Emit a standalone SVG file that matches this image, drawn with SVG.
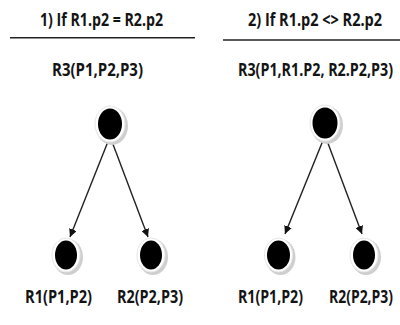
<svg xmlns="http://www.w3.org/2000/svg" width="400" height="325" viewBox="0 0 400 325">
<style>
text{font-family:"Open Sans","Liberation Sans",sans-serif;font-weight:bold;fill:#141414;}
.t{font-size:17px;}
.b{font-size:18px;}
.rule{stroke:#222;stroke-width:1.6;}
.edge{stroke:#222;stroke-width:1.4;fill:none;marker-end:url(#ah);}
.sh{fill:#cfcfcf;}
.halo{fill:#fff;stroke:#e6e6e6;stroke-width:1;}
.dot{fill:#000;}
</style>
<defs>
<marker id="ah" viewBox="0 0 10 10" refX="10" refY="5" markerWidth="8" markerHeight="8" markerUnits="userSpaceOnUse" orient="auto">
<path d="M0,0 L10,5 L0,10 Z" fill="#111"/>
</marker>
</defs>
<rect width="400" height="325" fill="#fff"/>
<g id="header-left">
<text class="t" x="40" y="26" textLength="123" lengthAdjust="spacingAndGlyphs">1) If R1.p2 = R2.p2</text>
<line class="rule" x1="10" y1="37.7" x2="195" y2="37.7"/>
</g>
<g id="header-right">
<text class="t" x="248" y="26" textLength="134" lengthAdjust="spacingAndGlyphs">2) If R1.p2 &lt;&gt; R2.p2</text>
<line class="rule" x1="223" y1="40" x2="400" y2="40"/>
</g>
<g id="connectors">
<line class="edge" x1="109" y1="139" x2="70" y2="237"/>
<line class="edge" x1="111" y1="139" x2="148" y2="237"/>
<line class="edge" x1="324" y1="138" x2="285" y2="234"/>
<line class="edge" x1="326" y1="138" x2="362" y2="234"/>
</g>
<g id="R3-left">
<ellipse class="sh" cx="112" cy="126" rx="16" ry="19"/>
<ellipse class="halo" cx="110" cy="124" rx="15" ry="18"/>
<ellipse class="dot" cx="110" cy="124" rx="12" ry="15.5"/>
<text class="t" x="52" y="76" textLength="91" lengthAdjust="spacingAndGlyphs">R3(P1,P2,P3)</text>
</g>
<g id="R1-left">
<ellipse class="sh" cx="68" cy="257" rx="15" ry="18"/>
<ellipse class="halo" cx="66" cy="255" rx="14" ry="17"/>
<ellipse class="dot" cx="66" cy="255" rx="11" ry="14.5"/>
<text class="b" x="25" y="303" textLength="67" lengthAdjust="spacingAndGlyphs">R1(P1,P2)</text>
</g>
<g id="R2-left">
<ellipse class="sh" cx="153" cy="257" rx="15" ry="18"/>
<ellipse class="halo" cx="151" cy="255" rx="14" ry="17"/>
<ellipse class="dot" cx="151" cy="255" rx="11" ry="14.5"/>
<text class="b" x="117" y="303" textLength="66" lengthAdjust="spacingAndGlyphs">R2(P2,P3)</text>
</g>
<g id="R3-right">
<ellipse class="sh" cx="327" cy="125" rx="16" ry="19"/>
<ellipse class="halo" cx="325" cy="123" rx="15" ry="18"/>
<ellipse class="dot" cx="325" cy="123" rx="12.5" ry="15.5"/>
<text class="t" x="238" y="76" textLength="155" lengthAdjust="spacingAndGlyphs">R3(P1,R1.P2, R2.P2,P3)</text>
</g>
<g id="R1-right">
<ellipse class="sh" cx="280.5" cy="257" rx="15" ry="18"/>
<ellipse class="halo" cx="278.5" cy="255" rx="14" ry="17"/>
<ellipse class="dot" cx="278.5" cy="255" rx="11.5" ry="14.5"/>
<text class="b" x="238" y="303" textLength="65" lengthAdjust="spacingAndGlyphs">R1(P1,P2)</text>
</g>
<g id="R2-right">
<ellipse class="sh" cx="366" cy="257" rx="15" ry="18"/>
<ellipse class="halo" cx="364" cy="255" rx="14" ry="17"/>
<ellipse class="dot" cx="364" cy="255" rx="11" ry="14.5"/>
<text class="b" x="329" y="303" textLength="64" lengthAdjust="spacingAndGlyphs">R2(P2,P3)</text>
</g>
</svg>
